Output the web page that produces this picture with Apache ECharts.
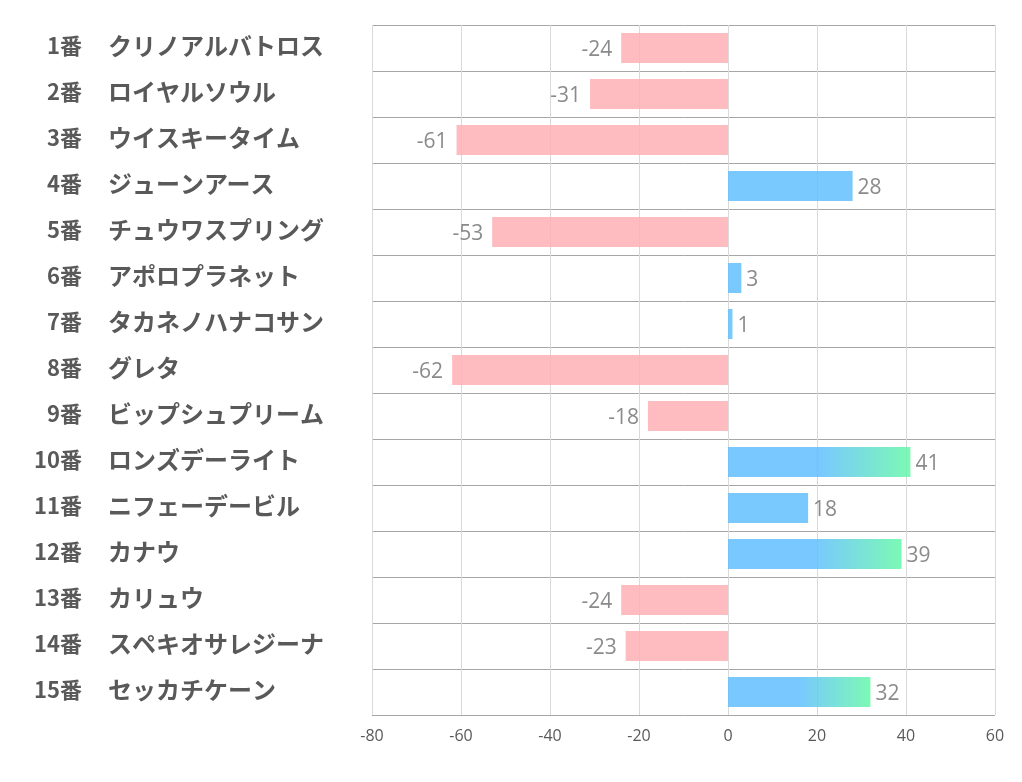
<!DOCTYPE html>
<html>
<head>
<meta charset="utf-8">
<script src="https://cdn.jsdelivr.net/npm/echarts@6/dist/echarts.min.js"></script>
<style>
html,body{margin:0;padding:0;background:#fff;}
#chart{width:1022px;height:782px;}
</style>
</head>
<body>
<div id="chart"></div>
<script>
const numbers = ['1番','2番','3番','4番','5番','6番','7番','8番','9番','10番','11番','12番','13番','14番','15番'];
const names = ['クリノアルバトロス','ロイヤルソウル','ウイスキータイム','ジューンアース','チュウワスプリング','アポロプラネット','タカネノハナコサン','グレタ','ビップシュプリーム','ロンズデーライト','ニフェーデービル','カナウ','カリュウ','スペキオサレジーナ','セッカチケーン'];
const values = [-24,-31,-61,28,-53,3,1,-62,-18,41,18,39,-24,-23,32];
const xTicks = {min:-80, max:60, interval:20};

const PINK = '#FFB0B5', BLUE = '#61BFFF', GREEN = '#65F8A8';

const chart = echarts.init(document.getElementById('chart'));
const seriesData = values.map(v => {
  let color;
  if (v < 0) color = PINK;
  else if (v >= 30) color = new echarts.graphic.LinearGradient(0,0,1,0,[
    {offset:0,color:BLUE},{offset:0.5,color:BLUE},{offset:1,color:GREEN}]);
  else color = BLUE;
  return {
    value: v,
    itemStyle: {color: color, opacity: 0.85},
    label: {position: v < 0 ? 'left' : 'right', distance: v < 0 ? 9 : 5}
  };
});

function richStyle(size) {
  return {t: {fontSize: size, fontWeight: 'bold', color: '#595959', fontFamily: 'Noto Sans CJK JP', padding: [0,0,4,0]}};
}

chart.setOption({
  animation: false,
  grid: {left: 372, right: 27, top: 25, bottom: 67, containLabel: false},
  xAxis: {
    type: 'value', min: xTicks.min, max: xTicks.max, interval: xTicks.interval,
    axisLine: {show: false}, axisTick: {show: false},
    splitLine: {show: true, lineStyle: {color: '#D9D9D9', width: 1}},
    axisLabel: {color: '#595959', fontSize: 16, margin: 13, fontFamily: 'Open Sans'}
  },
  yAxis: [{
    type: 'category', inverse: true, data: names, position: 'left',
    axisLine: {show: false}, axisTick: {show: false},
    splitLine: {show: true, lineStyle: {color: '#A6A6A6', width: 1}},
    axisLabel: {align: 'left', margin: 264, formatter: v => '{t|' + v + '}', rich: richStyle(24)}
  }, {
    type: 'category', inverse: true, data: numbers, position: 'left',
    axisLine: {show: false}, axisTick: {show: false}, splitLine: {show: false},
    axisLabel: {align: 'right', margin: 290, formatter: v => '{t|' + v + '}', rich: richStyle(22)}
  }],
  series: [{
    type: 'bar', data: seriesData, barWidth: 30, yAxisIndex: 0,
    label: {show: true, color: '#757575', fontSize: 21, fontFamily: 'Open Sans', offset: [0, 2]}
  }]
});
</script>
</body>
</html>
